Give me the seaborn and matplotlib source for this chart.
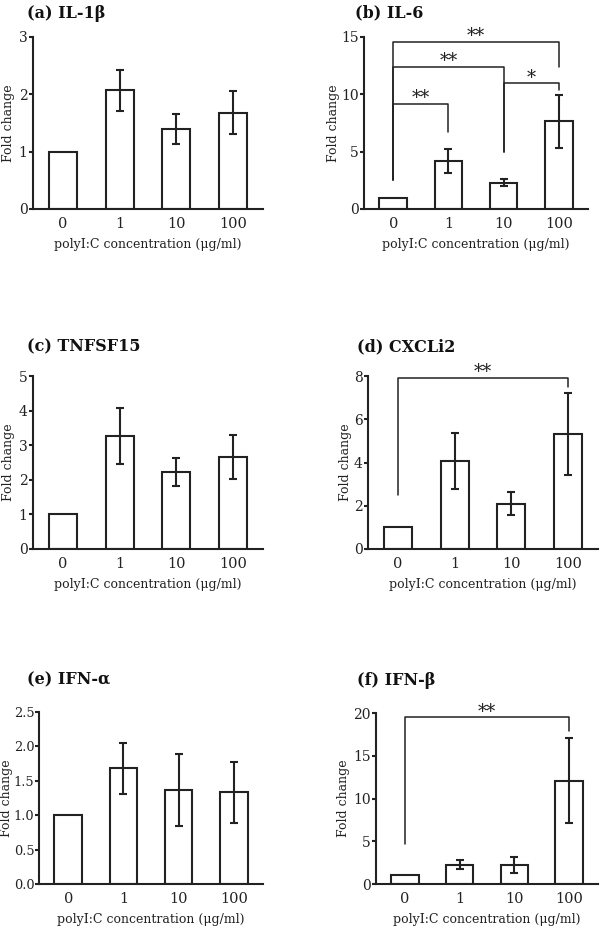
import matplotlib
matplotlib.use('Agg')
import matplotlib.pyplot as plt
import seaborn as sns
import pandas as pd

# ---------------- data ----------------
concentrations = ['0', '1', '10', '100']
titles = ['(a) IL-1β', '(b) IL-6', '(c) TNFSF15', '(d) CXCLi2', '(e) IFN-α', '(f) IFN-β']

il1b_mean = [1.0, 2.07, 1.39, 1.68]
il1b_err = [0.0, 0.36, 0.265, 0.375]
il6_mean = [1.0, 4.2, 2.3, 7.65]
il6_err = [0.0, 1.03, 0.33, 2.29]
tnfsf15_mean = [1.0, 3.27, 2.23, 2.67]
tnfsf15_err = [0.0, 0.80, 0.41, 0.635]
cxcli2_mean = [1.0, 4.06, 2.10, 5.30]
cxcli2_err = [0.0, 1.29, 0.55, 1.90]
ifna_mean = [1.0, 1.68, 1.37, 1.33]
ifna_err = [0.0, 0.365, 0.52, 0.45]
ifnb_mean = [1.0, 2.25, 2.25, 12.1]
ifnb_err = [0.0, 0.55, 0.93, 4.98]

yticks_a = [0, 1, 2, 3]
yticks_b = [0, 5, 10, 15]
yticks_c = [0, 1, 2, 3, 4, 5]
yticks_d = [0, 2, 4, 6, 8]
yticks_e = [0.0, 0.5, 1.0, 1.5, 2.0, 2.5]
yticks_f = [0, 5, 10, 15, 20]

# significance brackets: (from, to, bar height, left end, right end, label)
brackets_b = [(0, 1, 9.2, 2.55, 6.75, '**'),
              (0, 2, 12.4, 2.55, 5.0, '**'),
              (2, 3, 10.95, 5.0, 10.4, '*'),
              (0, 3, 14.57, 2.55, 12.4, '**')]
brackets_d = [(0, 3, 7.92, 2.49, 7.5, '**')]
brackets_f = [(0, 3, 19.5, 4.7, 17.9, '**')]

panels = [
    (titles[0], il1b_mean, il1b_err, yticks_a, [], '%d'),
    (titles[1], il6_mean, il6_err, yticks_b, brackets_b, '%d'),
    (titles[2], tnfsf15_mean, tnfsf15_err, yticks_c, [], '%d'),
    (titles[3], cxcli2_mean, cxcli2_err, yticks_d, brackets_d, '%d'),
    (titles[4], ifna_mean, ifna_err, yticks_e, [], '%.1f'),
    (titles[5], ifnb_mean, ifnb_err, yticks_f, brackets_f, '%d'),
]

# ---------------- layout (pixels) ----------------
W, H = 600, 930
axes_px = [(33, 263, 37, 209), (364, 588, 37, 209),
           (33, 263, 376, 549), (368, 598, 376, 549),
           (39, 263, 712, 884), (376, 598, 713, 884)]
title_px = [(27, 13), (355, 13), (27, 347), (357, 347), (27, 680), (357, 680)]
ylabel_px = [9, 333, 9, 345, 7, 343]
yticksize = [10, 10, 10, 10, 9.3, 10]
ytickpad = [1, 1, 1, 1, 0.3, 1]

sns.set_theme(style='ticks')
plt.rcParams['font.family'] = ['DejaVu Serif', 'DejaVu Sans']

fig = plt.figure(figsize=(W / 100, H / 100), dpi=100)
lw = 1.5
ink = '#222222'

for k, ((title, mean, err, yticks, brackets, fmt), (l, r, t, b), (tx, ty), ylx) in enumerate(
        zip(panels, axes_px, title_px, ylabel_px)):
    ax = fig.add_axes([l / W, 1 - b / H, (r - l) / W, (b - t) / H])
    df = pd.DataFrame({'conc': concentrations, 'fold': mean})
    sns.barplot(data=df, x='conc', y='fold', order=concentrations, ax=ax,
                color='white', edgecolor=ink, linewidth=lw, width=0.5,
                errorbar=None, saturation=1)
    xs = [i for i, e in enumerate(err) if e > 0]
    ax.errorbar(xs, [mean[i] for i in xs], yerr=[err[i] for i in xs], fmt='none',
                ecolor=ink, elinewidth=lw, capsize=3, capthick=lw, zorder=5)
    for (i, j, y, yl, yr, lab) in brackets:
        ax.plot([i, i, j, j], [yl, y, y, yr], color=ink, lw=1.1, clip_on=False, zorder=6)
        ax.annotate(lab, xy=((i + j) / 2, y), xytext=(0, 4), textcoords='offset points',
                    ha='center', va='center', fontsize=13, color=ink, annotation_clip=False)
    ax.set_xlim(-0.53, 3.53)
    ax.set_ylim(yticks[0], yticks[-1])
    ax.set_yticks(yticks)
    ax.set_yticklabels([fmt % v for v in yticks])
    ax.tick_params(axis='y', length=3, width=lw, pad=ytickpad[k], labelsize=yticksize[k], colors=ink)
    ax.tick_params(axis='x', length=0, pad=6, labelsize=10.5, colors=ink)
    for s in ['top', 'right']:
        ax.spines[s].set_visible(False)
    for s in ['left', 'bottom']:
        ax.spines[s].set_linewidth(lw)
        ax.spines[s].set_color(ink)
    ax.set_xlabel('polyI:C concentration (μg/ml)', fontsize=9, labelpad=5, color=ink)
    ax.set_ylabel('Fold change', fontsize=9, color=ink, va='center')
    ax.yaxis.set_label_coords((ylx - l) / (r - l), 0.5)
    fig.text(tx / W, 1 - ty / H, title, ha='left', va='center', fontsize=11.5,
             fontweight='bold', color='#111111')

fig.savefig('out.png', dpi=100)
